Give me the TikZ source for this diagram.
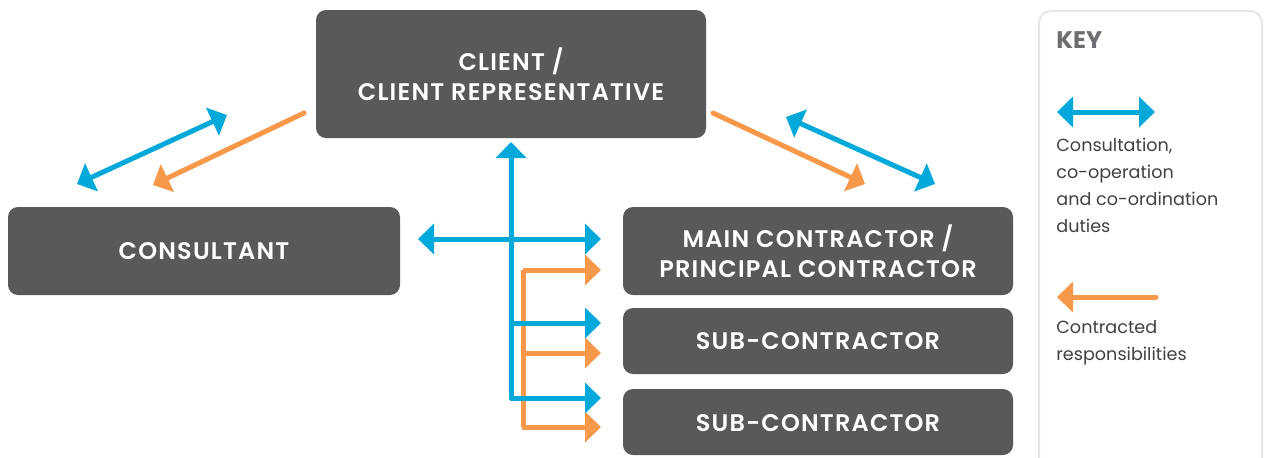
\documentclass[tikz,border=0pt]{standalone}
\usepackage{fontspec}
\setmainfont{Poppins}
\newfontfamily\partyfont{Poppins SemiBold}[LetterSpace=5]
\usetikzlibrary{arrows.meta}
\definecolor{boxgray}{HTML}{58595B}
\definecolor{cblue}{HTML}{00A9DA}
\definecolor{corange}{HTML}{F7984A}
\definecolor{keyline}{HTML}{E6E6E6}
\definecolor{keyhead}{HTML}{6D6E71}
\definecolor{keytext}{HTML}{414042}
\begin{document}
\begin{tikzpicture}[x=0.5pt,y=-0.5pt,
  party/.style={fill=boxgray, rounded corners=5pt, draw=none, text=white,
    font=\partyfont\fontsize{12}{15}\selectfont,
    align=center, inner sep=0pt},
  consult/.style={draw=cblue, line width=2.5pt, {Triangle[length=8pt,width=15pt]}-{Triangle[length=8pt,width=15pt]}},
  consultone/.style={draw=cblue, line width=2.5pt, -{Triangle[length=8pt,width=15pt]}},
  contract/.style={draw=corange, line width=2.5pt, -{Triangle[length=8pt,width=15pt]}},
  keylabel/.style={anchor=north west, inner sep=0pt, text=keytext, align=left,
    font=\fontsize{8.8}{13.5}\selectfont},
]
\useasboundingbox (0,0) rectangle (1264,457);

% parties
\path[party] (316,10) rectangle (706,138);
\node[party] (client) at (511,74) {CLIENT /\\CLIENT REPRESENTATIVE};
\path[party] (8,207) rectangle (400,295);
\node[party] (consultant) at (204,251) {CONSULTANT};
\path[party] (623,207) rectangle (1013,295);
\node[party] (main) at (818,251) {MAIN CONTRACTOR /\\PRINCIPAL CONTRACTOR};
\path[party] (623,308) rectangle (1013,374);
\node[party] (sub1) at (818,341) {SUB-CONTRACTOR};
\path[party] (623,389) rectangle (1013,455);
\node[party] (sub2) at (818,423) {SUB-CONTRACTOR};

% end points of the connectors
\coordinate (cl-top) at (511,142);
\coordinate (cl-cons) at (418,239);
\coordinate (cl-main) at (601,239);
\coordinate (cl-s1) at (601,323);
\coordinate (cl-s2) at (601,398);
\coordinate (or-main) at (601,270);
\coordinate (or-s1) at (601,353);
\coordinate (or-s2) at (601,427);
\coordinate (lb-a) at (77,184);
\coordinate (lb-b) at (227,115);
\coordinate (lo-a) at (304,113);
\coordinate (lo-b) at (153,185);
\coordinate (ro-a) at (713,113);
\coordinate (ro-b) at (865,184);
\coordinate (rb-a) at (786,117);
\coordinate (rb-b) at (935,184);

% contracted responsibilities (tree)
\draw[corange, line width=2.5pt, line join=round] (523,427) -- (523,270);
\draw[contract] (523,270) -- (or-main);
\draw[contract] (523,353) -- (or-s1);
\draw[contract] (523,427) -- (or-s2);
\draw[corange, line width=2.5pt, line join=round] (521.75,427) -- (523,427);

% consultation tree
\draw[consultone, line join=round] (cl-s2) ++(-8,0) -| (cl-top);
\draw[consultone] (511,398) -- (cl-s2);
\draw[consult] (cl-cons) -- (cl-main);
\draw[consultone] (511,323) -- (cl-s1);

% diagonal connectors
\draw[consult] (lb-a) -- (lb-b);
\draw[contract, line cap=round] (lo-a) -- (lo-b);
\draw[contract, line cap=round] (ro-a) -- (ro-b);
\draw[consult] (rb-a) -- (rb-b);

% key
\draw[keyline, line width=1pt, rounded corners=6pt] (1039,480) -- (1039,11) -- (1262,11) -- (1262,480);
\node[anchor=west, inner sep=0pt, text=keyhead, font=\bfseries\fontsize{12}{14}\selectfont] (keyt) at (1056,40) {KEY};
\coordinate (k1a) at (1057,112);
\coordinate (k1b) at (1155,112);
\draw[consult] (k1a) -- (k1b);
\node[keylabel] (k1t) at (1056,138) {Consultation,\\co-operation\\and co-ordination\\duties};
\coordinate (k2a) at (1156,297);
\coordinate (k2b) at (1057,297);
\draw[contract, line cap=round] (k2a) -- (k2b);
\node[keylabel] (k2t) at (1056,320) {Contracted\\responsibilities};
\end{tikzpicture}
\end{document}
